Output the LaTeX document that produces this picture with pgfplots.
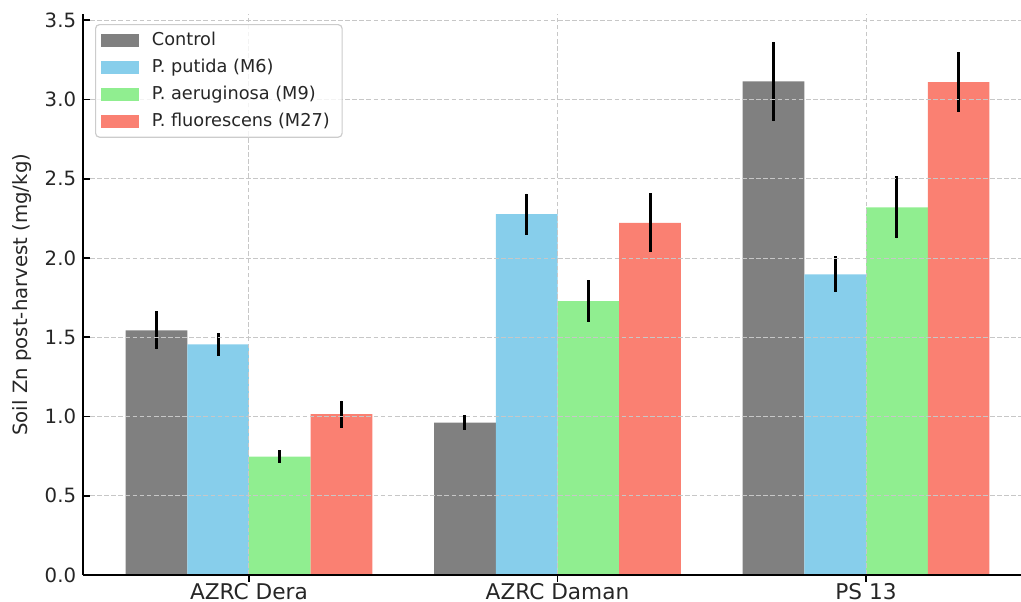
\documentclass[border=0pt]{standalone}
\usepackage{fontspec}
\setmainfont{DejaVu Sans}
\usepackage{pgfplots}
\pgfplotsset{compat=1.18}
\definecolor{cctrl}{HTML}{808080}
\definecolor{cput}{HTML}{87CEEB}
\definecolor{caer}{HTML}{90EE90}
\definecolor{cflu}{HTML}{FA8072}
\definecolor{txt}{HTML}{262626}
\begin{document}
\begin{tikzpicture}
\begin{axis}[
  scale only axis,
  width=482.1pt, height=284.8pt,
  xmin=-0.538, xmax=2.538, ymin=0, ymax=3.537,
  axis x line*=bottom, axis y line*=left,
  axis line style={black, line width=0.8pt},
  tick align=inside,
  major tick length=3.5pt,
  every tick/.style={black, line width=0.8pt},
  xtick={0,1,2}, xticklabels={AZRC Dera, AZRC Daman, PS 13},
  ytick={0,0.5,...,3.5},
  yticklabel style={/pgf/number format/fixed, /pgf/number format/fixed zerofill, /pgf/number format/precision=1, /pgf/number format/assume math mode=true, font=\fontsize{10}{12}\selectfont, text=txt},
  xticklabel style={font=\fontsize{11}{13}\selectfont, text=txt, yshift=3pt},
  grid=major,
  major grid style={black!22, dash pattern=on 2.4pt off 1.2pt, line width=0.5pt},
  axis on top,
  ybar, bar shift=0pt, bar width=0.2,
  every axis plot/.append style={draw=none},
  error bars/y dir=both, error bars/y explicit,
  error bars/error mark=none,
  error bars/error bar style={black, line width=1.5pt},
  ylabel={Soil Zn post-harvest (mg/kg)},
  every axis y label/.style={at={(axis description cs:-0.0643,0.5)}, rotate=90, anchor=center, font=\fontsize{10}{12}\selectfont, text=txt},
  legend cell align=left,
  legend image code/.code={\fill[#1, draw=none, fill opacity=1, sharp corners] (0pt,-3.3pt) rectangle (19.3pt,3.3pt);},
  legend style={at={(axis description cs:0,1)}, anchor=north west, xshift=6.1pt, yshift=-4.9pt,
    draw=black!20, line width=0.6pt, rounded corners=2pt,
    fill=white, fill opacity=0.8, text opacity=1, draw opacity=1,
    font=\fontsize{9}{11}\selectfont, text=txt,
    inner xsep=3pt, inner ysep=1.2pt, row sep=0pt,
    /tikz/every odd column/.append style={column sep=3pt},
    nodes={inner xsep=3.3pt, inner ysep=2.15pt, text height=7.2pt, text depth=2.2pt}},
]
\addplot[fill=cctrl] coordinates {(-0.3,1.543) +- (0,0.120) (0.7,0.962) +- (0,0.045) (1.7,3.114) +- (0,0.250)};
\addlegendentry{Control}
\addplot[fill=cput] coordinates {(-0.1,1.455) +- (0,0.073) (0.9,2.276) +- (0,0.130) (1.9,1.897) +- (0,0.113)};
\addlegendentry{P. putida (M6)}
\addplot[fill=caer] coordinates {(0.1,0.747) +- (0,0.040) (1.1,1.728) +- (0,0.133) (2.1,2.320) +- (0,0.197)};
\addlegendentry{P. aeruginosa (M9)}
\addplot[fill=cflu] coordinates {(0.3,1.015) +- (0,0.085) (1.3,2.222) +- (0,0.185) (2.3,3.110) +- (0,0.190)};
\addlegendentry{P. fluorescens (M27)}
\node[anchor=base west, inner sep=0pt, font=\fontsize{14}{17}\selectfont, text=txt] at (rel axis cs:-0.0622,1.0228) {Soil Zn post-harvest (mg/kg)};
\end{axis}
\pgfresetboundingbox
\path[use as bounding box] (-42.16pt,-13.21pt) rectangle (476.5pt,292.1pt);
\end{tikzpicture}
\end{document}
